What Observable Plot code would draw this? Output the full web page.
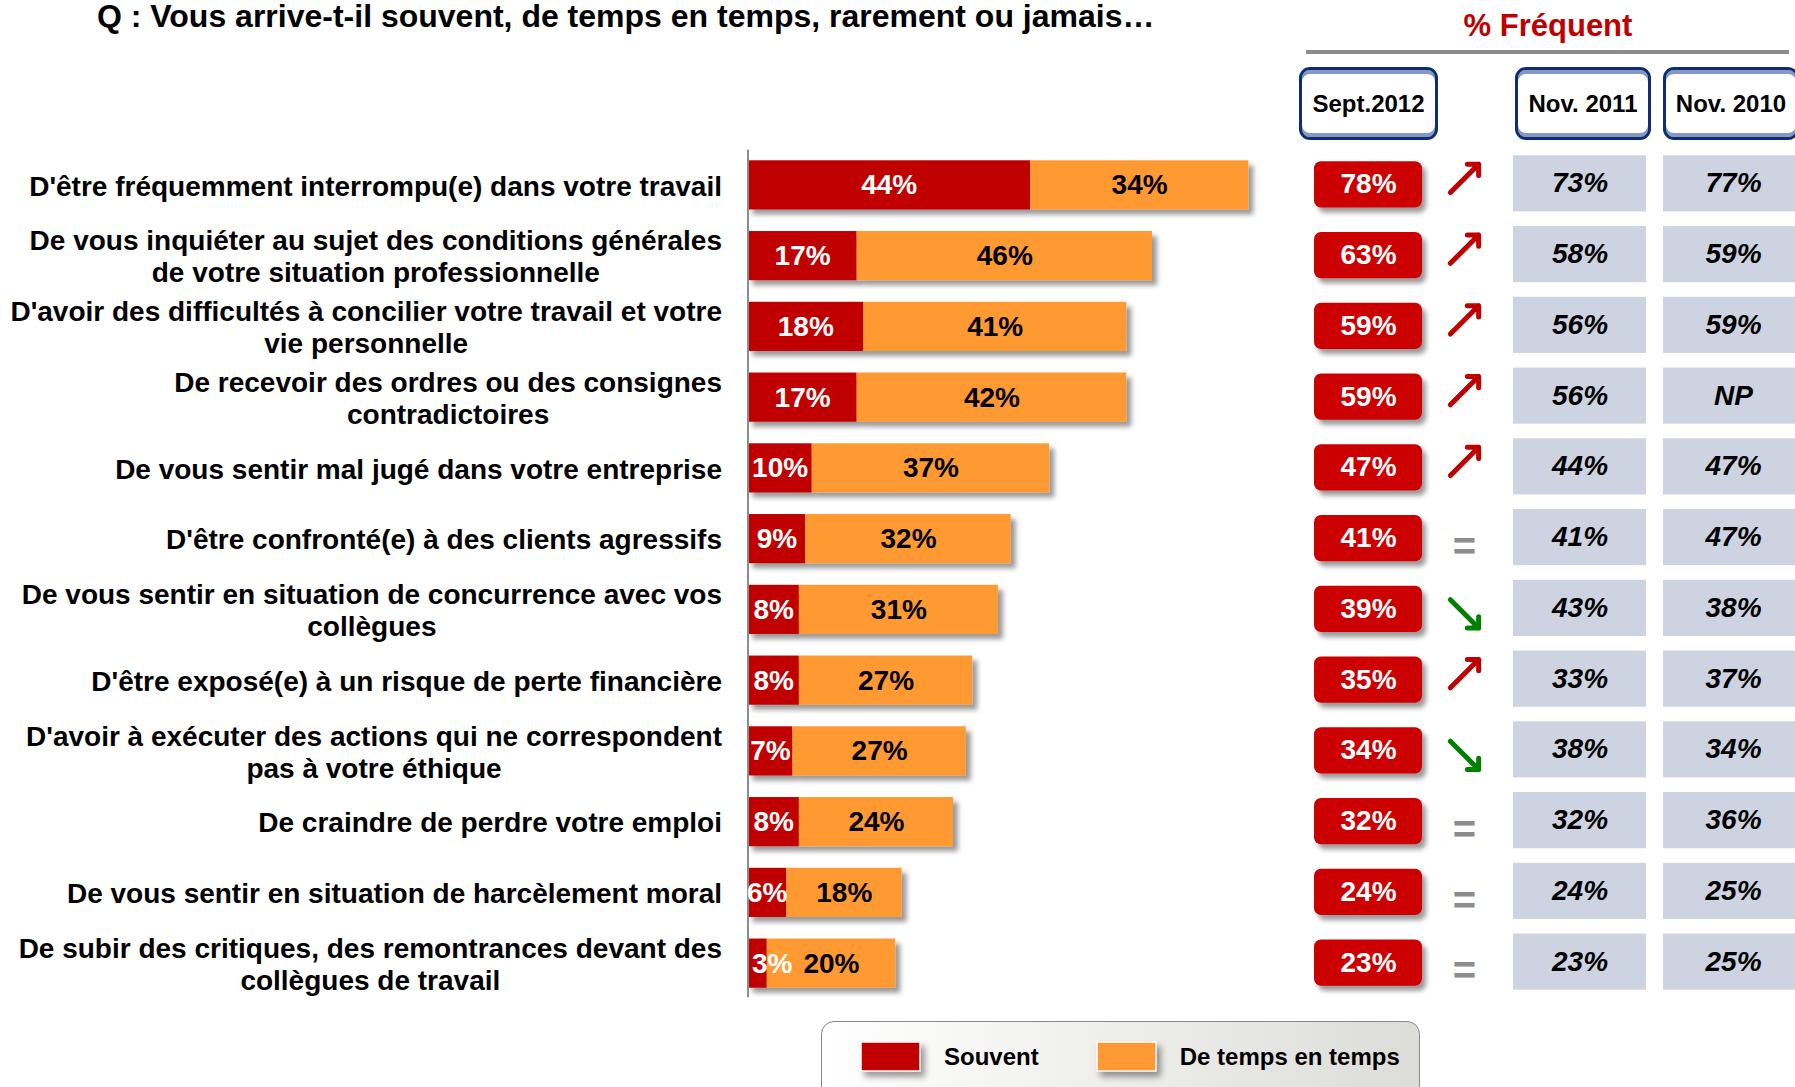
<!DOCTYPE html>
<html><head><meta charset="utf-8">
<script src="https://cdn.jsdelivr.net/npm/d3@7"></script>
<script src="https://cdn.jsdelivr.net/npm/@observablehq/plot@0.6"></script>
<style>
html,body{margin:0;padding:0;background:#fff;overflow:hidden}
#root{position:relative;width:1795px;height:1087px;overflow:hidden;font-family:"Liberation Sans",Arial,sans-serif;color:#000}
.abs{position:absolute;line-height:1;white-space:nowrap}
#title{left:97px;top:0px;font-size:32px;font-weight:bold}
#freq{left:1348px;width:400px;top:10px;font-size:31px;font-weight:bold;color:#c00000;text-align:center}
#hline{left:1306px;top:50px;width:483px;height:4px;background:#8c8c8c}
.hdr{box-sizing:border-box;height:73px;top:67px;border:3px solid #0f2d72;border-radius:11px;
  box-shadow:inset 0 4px 0 #8598c4,inset 0 -4px 0 #8598c4;background:#fff;
  display:flex;align-items:center;justify-content:center;font-size:24px;font-weight:bold}
#legendBox{left:821px;top:1021px;width:599px;height:80px;box-sizing:border-box;border:1.5px solid #8a8a8a;border-radius:13px;
  background:linear-gradient(to right,#ffffff 0%,#f1f1ef 40%,#dcdcd8 100%);padding:18px 0 0 39px}
.lg-swatches{font-size:24px !important;font-weight:bold;font-family:"Liberation Sans",Arial,sans-serif !important;color:#000;flex-wrap:nowrap !important;white-space:nowrap}
.lg-swatch{margin-right:58px !important}
.lg-swatch > svg{margin-right:24px !important;filter:drop-shadow(4px 5px 3px rgba(0,0,0,0.4))}
.lg-swatch rect{stroke:#fff;stroke-width:1.5px}
.plt{position:absolute;top:0}
</style>
</head><body>
<div id="root">
  <div id="title" class="abs">Q : Vous arrive-t-il souvent, de temps en temps, rarement ou jamais…</div>
  <div id="freq" class="abs">% Fréquent</div>
  <div id="hline" class="abs"></div>
  <div id="legendBox" class="abs"></div>
</div>
<script>
// ---------- data ----------
const categories = [
  "D'être fréquemment interrompu(e) dans votre travail",
  "De vous inquiéter au sujet des conditions générales\nde votre situation professionnelle",
  "D'avoir des difficultés à concilier votre travail et votre\nvie personnelle",
  "De recevoir des ordres ou des consignes\ncontradictoires",
  "De vous sentir mal jugé dans votre entreprise",
  "D'être confronté(e) à des clients agressifs",
  "De vous sentir en situation de concurrence avec vos\ncollègues",
  "D'être exposé(e) à un risque de perte financière",
  "D'avoir à exécuter des actions qui ne correspondent\npas à votre éthique",
  "De craindre de perdre votre emploi",
  "De vous sentir en situation de harcèlement moral",
  "De subir des critiques, des remontrances devant des\ncollègues de travail"
];
const souvent      = [44, 17, 18, 17, 10, 9, 8, 8, 7, 8, 6, 3];
const tempsEnTemps = [34, 46, 41, 42, 37, 32, 31, 27, 27, 24, 18, 20];
const frequentSept2012 = [78, 63, 59, 59, 47, 41, 39, 35, 34, 32, 24, 23];
const frequentNov2011  = [73, 58, 56, 56, 44, 41, 43, 33, 38, 32, 24, 23];
const frequentNov2010  = [77, 59, 59, null, 47, 47, 38, 37, 34, 36, 25, 25];
const tendance = ["up","up","up","up","up","eq","down","up","down","eq","eq","eq"];
const series = ["Souvent", "De temps en temps"];
const seriesColors = ["#c00000", "#ff9933"];
const columnHeaders = ["Sept.2012", "Nov. 2011", "Nov. 2010"];

// ---------- tables ----------
const rows = categories.map((label, i) => ({
  label, souvent: souvent[i], temps: tempsEnTemps[i],
  sept: frequentSept2012[i], nov11: frequentNov2011[i], nov10: frequentNov2010[i], trend: tendance[i]
}));
const long = rows.flatMap(r => [
  {label: r.label, serie: series[0], value: r.souvent},
  {label: r.label, serie: series[1], value: r.temps}
]);
const pct = v => v == null ? "NP" : v + "%";

// ---------- layout ----------
const W = 1795, H = 1087, MT = 138.7, MB = H - 1009.3;
const yScale = {type: "band", domain: categories, padding: 0.305, round: false, axis: null};
const baseStyle = {fontFamily: "'Liberation Sans', Arial, sans-serif", background: "transparent", overflow: "visible"};
const root = document.getElementById("root");

function addShadow(svg, sel, id, dx, dy, sd, op) {
  const ns = "http://www.w3.org/2000/svg";
  const defs = document.createElementNS(ns, "defs");
  defs.innerHTML = `<filter id="${id}" x="-20%" y="-30%" width="150%" height="180%"><feDropShadow dx="${dx}" dy="${dy}" stdDeviation="${sd}" flood-color="#000" flood-opacity="${op}"/></filter>`;
  svg.insertBefore(defs, svg.firstChild);
  svg.querySelectorAll(sel).forEach(g => g.setAttribute("filter", `url(#${id})`));
}

// ---------- bars ----------
const bars = Plot.plot({
  width: W, height: H, marginTop: MT, marginBottom: MB, marginLeft: 747.5, marginRight: W - 1389.5,
  x: {domain: [0, 100], axis: null},
  y: yScale,
  color: {domain: series, range: seriesColors},
  style: baseStyle,
  marks: [
    Plot.barX(long, Plot.stackX({x: "value", y: "label", fill: "serie"})),
    Plot.ruleX([0], {stroke: "#8c8c8c", strokeWidth: 2, insetTop: 11, insetBottom: 12}),
    Plot.text(rows.filter(d => d.souvent >= 5), {x: d => d.souvent / 2, y: "label", text: d => d.souvent + "%",
      fill: "white", fontSize: 28, fontWeight: "bold"}),
    Plot.text(rows.filter(d => d.souvent < 5), {x: 0, y: "label", text: d => d.souvent + "%",
      fill: "white", fontSize: 28, fontWeight: "bold", textAnchor: "start", dx: 4}),
    Plot.text(rows, {x: d => d.souvent + d.temps / 2, y: "label", text: d => d.temps + "%",
      fill: "black", fontSize: 28, fontWeight: "bold"}),
    Plot.text(rows, {x: 0, y: "label", text: "label", textAnchor: "end", dx: -26, lineHeight: 1.14,
      fill: "black", fontSize: 28, fontWeight: "bold"})
  ]
});
bars.classList.add("plt");
bars.style.left = "0px";
root.appendChild(bars);
addShadow(bars, 'g[aria-label="bar"]', "shBar", 5, 5, 2.5, 0.4);
// center each multi-line label block on its own longest line (right edge kept)
bars.querySelectorAll('g[aria-label="text"]').forEach((g, gi, all) => {
  if (gi !== all.length - 1) return;
  g.querySelectorAll("text").forEach(t => {
    const b = t.getBBox();
    const cx = b.x + b.width / 2;
    t.setAttribute("text-anchor", "middle");
    const spans = t.querySelectorAll("tspan");
    if (spans.length) spans.forEach(s => s.setAttribute("x", cx));
    else t.setAttribute("x", (+t.getAttribute("x") || 0) + cx);
  });
});

// ---------- right-hand table columns ----------
function column(left, width, marks) {
  const p = Plot.plot({
    width, height: H, marginTop: MT, marginBottom: MB, marginLeft: 0, marginRight: 0,
    y: yScale, style: baseStyle, marks
  });
  p.classList.add("plt");
  p.style.left = left + "px";
  root.appendChild(p);
  return p;
}
const pills = column(1314, 108, [
  Plot.cell(rows, {y: "label", fill: "#cc0000", rx: 7, insetTop: 1, insetBottom: 2}),
  Plot.text(rows, {y: "label", text: d => pct(d.sept), fill: "white", fontSize: 28, fontWeight: "bold", dy: -1})
]);
addShadow(pills, 'g[aria-label="cell"]', "shPill", 4, 5, 2.5, 0.4);

column(1440, 48, [
  Plot.vector(rows.filter(d => d.trend === "up"), {y: "label", rotate: 45, length: 40, anchor: "middle",
    stroke: "#c00000", strokeWidth: 5, shape: "arrow", dy: -7}),
  Plot.vector(rows.filter(d => d.trend === "down"), {y: "label", rotate: 135, length: 40, anchor: "middle",
    stroke: "#008000", strokeWidth: 5, shape: "arrow", dy: 4}),
  Plot.text(rows.filter(d => d.trend === "eq"), {y: "label", text: () => "=", fill: "#8c8c8c",
    fontSize: 40, fontWeight: "bold", dy: 8})
]);

column(1513, 133, [
  Plot.cell(rows, {y: "label", fill: "#cdd3e0", insetTop: -5, insetBottom: -2}),
  Plot.text(rows, {y: "label", text: d => pct(d.nov11), fill: "black", fontSize: 28, fontWeight: "bold", fontStyle: "italic", dy: -2})
]);
column(1663, 140, [
  Plot.cell(rows, {y: "label", fill: "#cdd3e0", insetTop: -5, insetBottom: -2}),
  Plot.text(rows, {y: "label", text: d => pct(d.nov10), fill: "black", fontSize: 28, fontWeight: "bold", fontStyle: "italic", dy: -2})
]);

// ---------- column headers ----------
const hdrPos = [[1299, 139], [1515, 136], [1663, 136]];
columnHeaders.forEach((h, i) => {
  const d = document.createElement("div");
  d.className = "abs hdr";
  d.style.left = hdrPos[i][0] + "px";
  d.style.width = hdrPos[i][1] + "px";
  d.textContent = h;
  root.appendChild(d);
});

// ---------- legend ----------
const legend = Plot.legend({
  color: {type: "ordinal", domain: series, range: seriesColors},
  legend: "swatches", swatchWidth: 59, swatchHeight: 29, className: "lg"
});
document.getElementById("legendBox").appendChild(legend);
</script>
</body></html>
